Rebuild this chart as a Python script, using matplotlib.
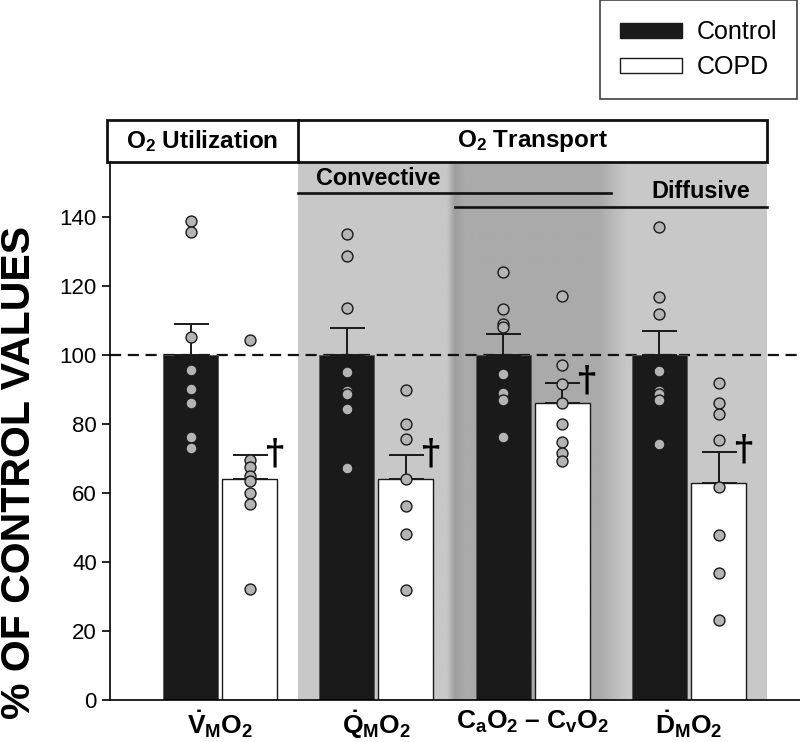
import numpy as np
import matplotlib
matplotlib.use('Agg')
import matplotlib.pyplot as plt
from matplotlib.patches import Rectangle, Patch

plt.rcParams['font.family'] = ['Liberation Sans', 'DejaVu Sans']
plt.rcParams['mathtext.fontset'] = 'custom'
plt.rcParams['mathtext.rm'] = 'Liberation Sans:bold'
plt.rcParams['mathtext.it'] = 'Liberation Sans:bold'
plt.rcParams['mathtext.bf'] = 'Liberation Sans:bold'

# datos
categorias = [r'$\dot{V}_MO_2$', r'$\dot{Q}_MO_2$', r'$C_aO_2$ – $C_vO_2$', r'$\dot{D}_MO_2$']
control_media = [100, 100, 100, 100]
control_err = [9, 8, 6, 7]
copd_media = [64, 64, 86, 63]
copd_err = [7, 7, 6, 9]

control_puntos = [
    [138.8, 135.7, 105.3, 95.7, 90.2, 86.0, 76.2, 73.0],
    [135.1, 128.6, 113.6, 95.0, 89.5, 88.6, 84.3, 67.4],
    [124.1, 113.5, 108.9, 108.3, 94.6, 89.1, 86.9, 76.4],
    [137.2, 116.8, 112.0, 95.5, 89.6, 88.7, 86.9, 74.3],
]
copd_puntos = [
    [104.5, 69.6, 67.6, 65.0, 63.5, 59.9, 56.7, 32.1],
    [89.8, 80.0, 75.7, 64.0, 56.3, 48.0, 31.9],
    [117.2, 97.0, 91.5, 86.1, 80.1, 74.9, 71.7, 69.3],
    [91.8, 86.1, 83.0, 75.4, 61.8, 47.7, 36.7, 23.2],
]

x = np.arange(1, 5)
off = 0.189
ancho = 0.352
ytop = 156

fig = plt.figure(figsize=(8, 7.42), dpi=100)
ax = fig.add_axes([110 / 800, 42 / 742, 690 / 800, 538 / 742])

# fondo gris para transporte de O2
ax.axvspan(1.5, 4.5, color='#c8c8c8', lw=0, zorder=0)
# zona mas oscura (convectivo + difusivo) con bordes difuminados
xs = np.linspace(2.4, 3.65, 400)
claro, oscuro = 0.785, 0.665
perfil = np.interp(xs, [2.4, 2.45, 2.5, 2.56, 3.42, 3.6, 3.65],
                   [claro, claro, 0.62, oscuro, oscuro, claro, claro])
ax.imshow(perfil[np.newaxis, :], cmap='gray', vmin=0, vmax=1, aspect='auto',
          extent=[2.4, 3.65, 0, ytop], zorder=0.5, interpolation='bilinear')
ax.set_xlim(0.296, 4.71)
ax.set_ylim(0, ytop)

ax.bar(x - off, control_media, ancho, color='#1a1a1a', edgecolor='#555555', lw=0.6, zorder=2)
ax.bar(x + off, copd_media, ancho, color='white', edgecolor='#1a1a1a', lw=1.0, zorder=2)

ax.errorbar(x - off, control_media, yerr=[[0] * 4, control_err], fmt='none',
            ecolor='#1a1a1a', elinewidth=1.4, capsize=12.6, capthick=1.4, zorder=3)
ax.errorbar(x + off, copd_media, yerr=[[0] * 4, copd_err], fmt='none',
            ecolor='#1a1a1a', elinewidth=1.4, capsize=12.6, capthick=1.4, zorder=3)

ax.axhline(100, color='#111111', ls=(0, (5, 3)), lw=1.6, zorder=1.5)

for i in range(4):
    ax.scatter([x[i] - off] * len(control_puntos[i]), control_puntos[i], s=62,
               facecolor='#b4b4b4', edgecolor='#1a1a1a', lw=1, zorder=4)
    ax.scatter([x[i] + off] * len(copd_puntos[i]), copd_puntos[i], s=62,
               facecolor='#b4b4b4', edgecolor='#1a1a1a', lw=1, zorder=4)
    # simbolo de significancia
    ax.text(x[i] + off + ancho / 2 - 0.02, copd_media[i] + copd_err[i] + 0.5, '†',
            fontsize=25, fontweight='bold', family='DejaVu Serif',
            ha='center', va='center', zorder=5)

# lineas convectivo / difusivo
ax.plot([1.5, 3.5], [147.0, 147.0], color='#111111', lw=1.9, zorder=3)
ax.plot([2.5, 4.5], [142.9, 142.9], color='#111111', lw=1.9, zorder=3)
ax.text(1.612, 148.0, 'Convective', fontsize=16.8, fontweight='bold', ha='left', va='bottom')
ax.text(4.39, 144.0, 'Diffusive', fontsize=16.8, fontweight='bold', ha='right', va='bottom')

# caja de encabezado
y0, y1 = ytop, 168.1
ax.add_patch(Rectangle((0.277, y0), 4.5 - 0.277, y1 - y0, fill=False, ec='#111111',
                       lw=2, clip_on=False, zorder=5))
ax.plot([1.5, 1.5], [y0, y1], color='#111111', lw=2, clip_on=False, zorder=5)
ax.text((0.277 + 1.5) / 2, (y0 + y1) / 2, r'O$_2$ Utilization', fontsize=17.5,
        fontweight='bold', ha='center', va='center')
ax.text(3.0, (y0 + y1) / 2, r'O$_2$ Transport', fontsize=17.5,
        fontweight='bold', ha='center', va='center')

# ejes
ax.spines['top'].set_visible(False)
ax.spines['right'].set_visible(False)
ax.spines['left'].set_linewidth(1.2)
ax.spines['bottom'].set_linewidth(1.2)
ax.set_yticks(np.arange(0, 141, 20))
ax.tick_params(axis='y', labelsize=16, length=6, width=1.2, direction='out')
ax.set_xticks(x)
ax.set_xticklabels(categorias, fontsize=19, fontweight='bold')
ax.tick_params(axis='x', length=0, pad=6)

fig.text(19 / 800, 1 - 472 / 742, '% OF CONTROL VALUES', rotation=90, fontsize=29.5,
         fontweight='bold', ha='center', va='center')

# leyenda
handles = [Patch(facecolor='#1a1a1a', edgecolor='#1a1a1a', label='Control'),
           Patch(facecolor='white', edgecolor='#1a1a1a', label='COPD')]
leg = fig.legend(handles=handles, loc='upper right', bbox_to_anchor=(797 / 800, 1.0),
                 fontsize=18, frameon=True, fancybox=False, edgecolor='#111111',
                 handlelength=2.45, handleheight=0.55, borderpad=0.8, labelspacing=0.45,
                 handletextpad=0.6, borderaxespad=0)
leg.get_frame().set_linewidth(1.2)

plt.savefig('out.png', dpi=100)
